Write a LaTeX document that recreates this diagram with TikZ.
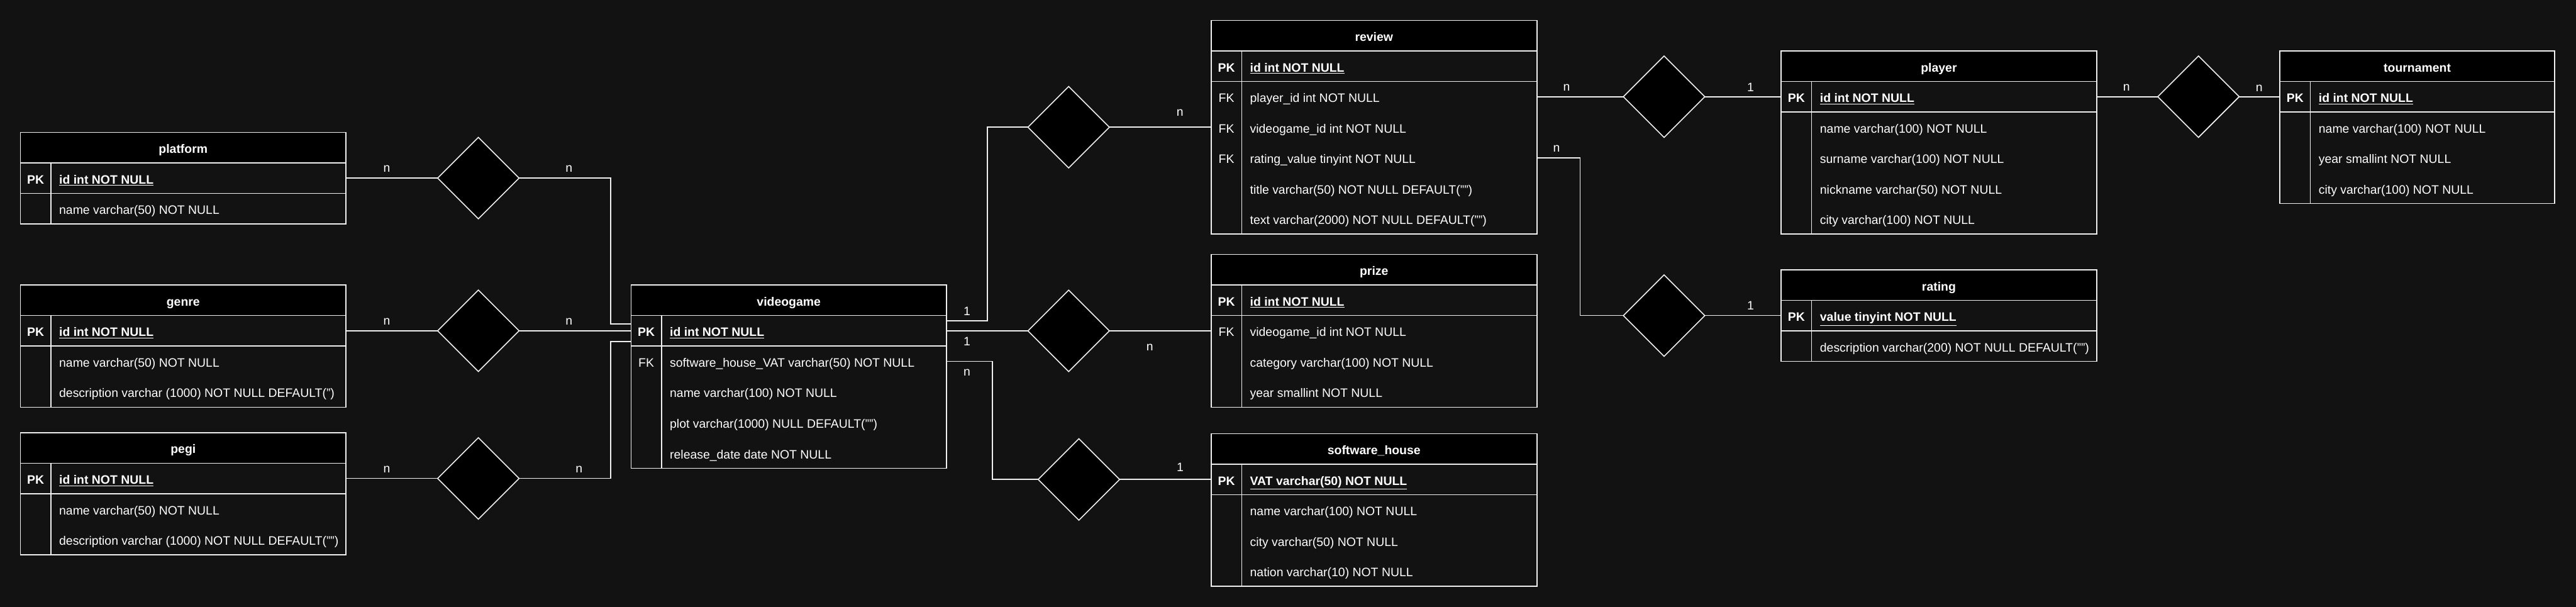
\documentclass[tikz,border=0pt]{standalone}
\usepackage{fontspec}
\setmainfont{Liberation Sans}
\usetikzlibrary{positioning, shapes.geometric}

\definecolor{fundo}{HTML}{121212}
\definecolor{traco}{HTML}{F0F0F0}

\newcommand{\fonte}{\fontsize{12}{14}\selectfont}

\tikzset{
  borda/.style={draw=traco, line width=1pt},
  caixa/.style={borda, fill=fundo, minimum height=30pt, inner sep=0pt, outer sep=0pt},
  cab/.style={caixa, fill=black, text=white, text height=11.5pt, text depth=0.5pt, font=\fonte\bfseries},
  chave/.style={text=white, inner sep=0pt, text height=11.5pt, text depth=0.5pt, font=\fonte},
  campo/.style={chave, anchor=west},
  losango/.style={diamond, borda, fill=black, minimum width=80pt, minimum height=80pt, inner sep=0pt, outer sep=0pt},
  liga/.style={draw=traco, line width=1pt},
  card/.style={text=white, font=\fonte},
}

% #1 nome, #2 canto, #3 largura, #4 titulo, #5 chave primaria, #6 atributos, #7 linhas
\newcommand{\tabela}[7]{%
  \node[cab, minimum width=#3, anchor=north west] (#1) at #2 {#4};
  \node[caixa, minimum width=#3, below=0pt of #1] (#1-pk) {};
  \node[caixa, minimum width=#3, minimum height=#7*30pt, below=0pt of #1-pk] (#1-a) {};
  \draw[borda] ([xshift=30pt]#1-pk.north west) -- ([xshift=30pt]#1-a.south west);
  \node[chave, font=\fonte\bfseries] (#1-pkk) at ([xshift=15pt]#1-pk.west) {PK};
  \node[campo, font=\fonte\bfseries] (#1-pkt) at ([xshift=38pt]#1-pk.west) {\underline{#5}};
  \foreach \chv/\atrib [count=\i] in {#6} {
    \node[chave] (#1-k\i) at ([xshift=15pt, yshift={15pt-30pt*\i}]#1-a.north west) {\chv};
    \node[campo] (#1-\i) at ([xshift=38pt, yshift={15pt-30pt*\i}]#1-a.north west) {\atrib};
  }
}

\begin{document}
\begin{tikzpicture}[x=1pt, y=-1pt]
  % fundo
  \fill[fundo] (0,0) rectangle (2531,596);
  \useasboundingbox (0,0) rectangle (2531,596);

  % tabelas
  \tabela{platform}{(20,130)}{320pt}{platform}{id int NOT NULL}
    {{}/{name varchar(50) NOT NULL}}{1}
  \tabela{genre}{(20,280)}{320pt}{genre}{id int NOT NULL}
    {{}/{name varchar(50) NOT NULL}, {}/{description varchar (1000) NOT NULL DEFAULT(")}}{2}
  \tabela{pegi}{(20,425)}{320pt}{pegi}{id int NOT NULL}
    {{}/{name varchar(50) NOT NULL}, {}/{description varchar (1000) NOT NULL DEFAULT("")}}{2}
  \tabela{videogame}{(620,280)}{310pt}{videogame}{id int NOT NULL}
    {FK/{software\_house\_VAT varchar(50) NOT NULL}, {}/{name varchar(100) NOT NULL},
     {}/{plot varchar(1000) NULL DEFAULT("")}, {}/{release\_date date NOT NULL}}{4}
  \tabela{review}{(1190,20)}{320pt}{review}{id int NOT NULL}
    {FK/{player\_id int NOT NULL}, FK/{videogame\_id int NOT NULL},
     FK/{rating\_value tinyint NOT NULL}, {}/{title varchar(50) NOT NULL DEFAULT("")},
     {}/{text varchar(2000) NOT NULL DEFAULT("")}}{5}
  \tabela{prize}{(1190,250)}{320pt}{prize}{id int NOT NULL}
    {FK/{videogame\_id int NOT NULL}, {}/{category varchar(100) NOT NULL},
     {}/{year smallint NOT NULL}}{3}
  \tabela{house}{(1190,426)}{320pt}{software\_house}{VAT varchar(50) NOT NULL}
    {{}/{name varchar(100) NOT NULL}, {}/{city varchar(50) NOT NULL},
     {}/{nation varchar(10) NOT NULL}}{3}
  \tabela{player}{(1750,50)}{310pt}{player}{id int NOT NULL}
    {{}/{name varchar(100) NOT NULL}, {}/{surname varchar(100) NOT NULL},
     {}/{nickname varchar(50) NOT NULL}, {}/{city varchar(100) NOT NULL}}{4}
  \tabela{rating}{(1750,265)}{310pt}{rating}{value tinyint NOT NULL}
    {{}/{description varchar(200) NOT NULL DEFAULT("")}}{1}
  \tabela{tournament}{(2240,50)}{270pt}{tournament}{id int NOT NULL}
    {{}/{name varchar(100) NOT NULL}, {}/{year smallint NOT NULL},
     {}/{city varchar(100) NOT NULL}}{3}

  % losangos
  \node[losango] (r-platform) at (470,175) {};
  \node[losango] (r-genre) at (470,325) {};
  \node[losango] (r-pegi) at (470,470) {};
  \node[losango] (r-review) at (1050,125) {};
  \node[losango] (r-prize) at (1050,325) {};
  \node[losango] (r-house) at (1060,471) {};
  \node[losango] (r-player) at (1635,95) {};
  \node[losango] (r-rating) at (1635,310) {};
  \node[losango] (r-tournament) at (2160,95) {};

  % ligacoes
  \draw[liga] (platform-pk.east) -- (r-platform.west);
  \draw[liga] (r-platform.east) -| ([xshift=-20pt, yshift=6.7pt]videogame-pk.west) -- ([yshift=6.7pt]videogame-pk.west);
  \draw[liga] (genre-pk.east) -- (r-genre.west);
  \draw[liga] (r-genre.east) -- (videogame-pk.west);
  \draw[liga] (pegi-pk.east) -- (r-pegi.west);
  \draw[liga] (r-pegi.east) -| ([xshift=-20pt, yshift=-10.6pt]videogame-pk.west) -- ([yshift=-10.6pt]videogame-pk.west);
  \draw[liga] ([yshift=10pt]videogame-pk.east) -| ([xshift=-40pt]r-review.west) -- (r-review.west);
  \draw[liga] (r-review.east) -- (review-a.west |- review-2);
  \draw[liga] (videogame-pk.east) -- (r-prize.west);
  \draw[liga] (r-prize.east) -- (prize-a.west |- prize-1);
  \draw[liga] (videogame-a.east |- videogame-1) -| ([xshift=-45pt]r-house.west) -- (r-house.west);
  \draw[liga] (r-house.east) -- (house-pk.west);
  \draw[liga] (review-a.east |- review-1) -- (r-player.west);
  \draw[liga] (r-player.east) -- (player-pk.west);
  \draw[liga] (review-a.east |- review-3) -| ([xshift=-42.5pt]r-rating.west) -- (r-rating.west);
  \draw[liga] (r-rating.east) -- (rating-pk.west);
  \draw[liga] (player-pk.east) -- (r-tournament.west);
  \draw[liga] (r-tournament.east) -- (tournament-pk.west);

  % cardinalidades
  \node[card] (c-platform) at (380,166) {n};
  \node[card] (c-platform-vg) at (559,166) {n};
  \node[card] (c-genre) at (380,316) {n};
  \node[card] (c-genre-vg) at (559,316) {n};
  \node[card] (c-pegi) at (380,461) {n};
  \node[card] (c-pegi-vg) at (569,461) {n};
  \node[card] (c-vg-review) at (950,305.6) {1};
  \node[card] (c-vg-prize) at (950,335.6) {1};
  \node[card] (c-vg-house) at (950,366.2) {n};
  \node[card] (c-review-vg) at (1159.4,110.9) {n};
  \node[card] (c-prize) at (1129.7,341.2) {n};
  \node[card] (c-house) at (1159.6,459) {1};
  \node[card] (c-review-player) at (1539.3,85.8) {n};
  \node[card] (c-player) at (1720,85.8) {1};
  \node[card] (c-review-rating) at (1529.3,146) {n};
  \node[card] (c-rating) at (1720,300) {1};
  \node[card] (c-player-tn) at (2089.3,85.8) {n};
  \node[card] (c-tournament) at (2219.7,86.5) {n};
\end{tikzpicture}
\end{document}
